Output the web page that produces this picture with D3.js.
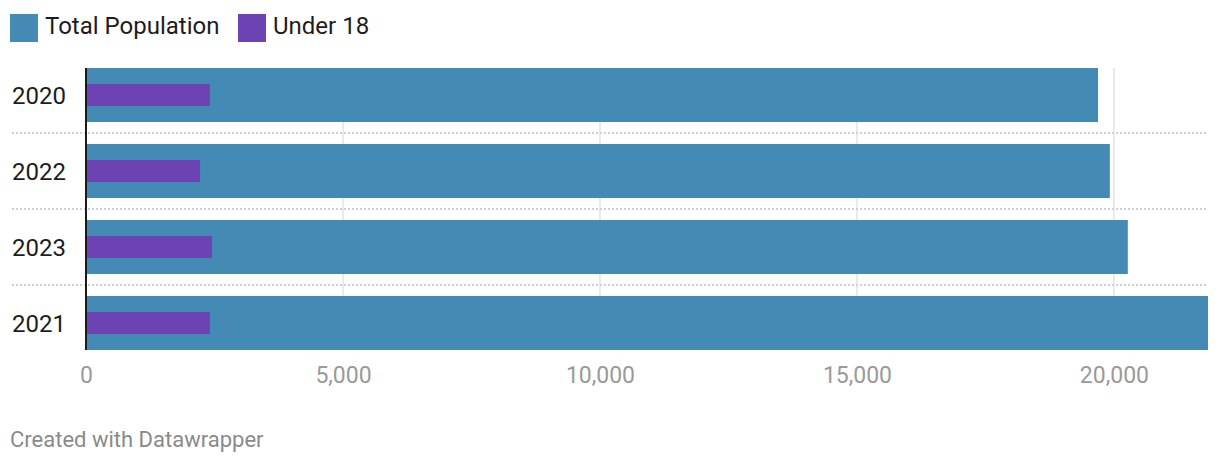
<!DOCTYPE html>
<html>
<head>
<meta charset="utf-8">
<script src="https://cdn.jsdelivr.net/npm/d3@7"></script>
<style>
  body { margin: 0; background: #fff; font-family: Roboto, "Noto Sans", sans-serif; }
</style>
</head>
<body>
<svg id="chart" width="1220" height="464"></svg>
<script>
var years = ["2020", "2022", "2023", "2021"];
var totalPopulation = [19690, 19920, 20270, 21830];
var under18 = [2410, 2220, 2450, 2410];
var xTicks = [0, 5000, 10000, 15000, 20000];
var seriesNames = ["Total Population", "Under 18"];
var seriesColors = ["#438bb5", "#6d43b3"];

var svg = d3.select("#chart");

// legend
var legend = svg.append("g");
var legendX = [10, 238];
seriesNames.forEach(function (name, i) {
    legend.append("rect")
        .attr("x", legendX[i]).attr("y", 14)
        .attr("width", 28).attr("height", 28)
        .attr("fill", seriesColors[i]);
    legend.append("text")
        .attr("x", legendX[i] + 35).attr("y", 34)
        .attr("font-size", 24)
        .attr("fill", "#1d1d1d")
        .text(name);
});

var xScale = d3.scaleLinear().domain([0, d3.max(totalPopulation)]).range([86, 1208]);
// band step 76, bar height 54
var yScale = d3.scaleBand().domain(years)
    .range([68, 68 + 76 * years.length - 22])
    .paddingInner(22 / 76).paddingOuter(0);

// vertical gridlines
svg.append("g").selectAll("line")
    .data(xTicks.slice(1))
    .enter().append("line")
    .attr("x1", function (d) { return xScale(d); })
    .attr("x2", function (d) { return xScale(d); })
    .attr("y1", 68).attr("y2", 350)
    .attr("stroke", "#e3e3e3").attr("stroke-width", 1.5);

// row separators
svg.append("g").selectAll("line")
    .data(years.slice(1))
    .enter().append("line")
    .attr("x1", 12).attr("x2", 1208)
    .attr("y1", function (d) { return yScale(d) - 11; })
    .attr("y2", function (d) { return yScale(d) - 11; })
    .attr("stroke", "#cfcfcf").attr("stroke-width", 2)
    .attr("stroke-dasharray", "2,2");

// total bars
svg.append("g").selectAll("rect")
    .data(years)
    .enter().append("rect")
    .attr("x", xScale(0) + 1)
    .attr("y", function (d) { return yScale(d); })
    .attr("width", function (d, i) { return xScale(totalPopulation[i]) - xScale(0) - 1; })
    .attr("height", yScale.bandwidth())
    .attr("fill", seriesColors[0]);

// under 18 bars
svg.append("g").selectAll("rect")
    .data(years)
    .enter().append("rect")
    .attr("x", xScale(0) + 1)
    .attr("y", function (d) { return yScale(d) + 16; })
    .attr("width", function (d, i) { return xScale(under18[i]) - xScale(0) - 1; })
    .attr("height", 22)
    .attr("fill", seriesColors[1]);

// zero line
svg.append("line")
    .attr("x1", xScale(0)).attr("x2", xScale(0))
    .attr("y1", 68).attr("y2", 350)
    .attr("stroke", "#1a1a1a").attr("stroke-width", 2);

// year labels
svg.append("g").selectAll("text")
    .data(years)
    .enter().append("text")
    .attr("x", 12)
    .attr("y", function (d) { return yScale(d) + yScale.bandwidth() / 2 + 9; })
    .attr("font-size", 24)
    .attr("fill", "#1d1d1d")
    .text(function (d) { return d; });

// x axis
var xAxis = d3.axisBottom(xScale).tickValues(xTicks).tickFormat(d3.format(",")).tickSize(0).tickPadding(0);
var xAxisGroup = svg.append("g")
    .attr("transform", "translate(0,367)")
    .call(xAxis);
xAxisGroup.select(".domain").remove();
xAxisGroup.selectAll("text")
    .attr("font-family", "Roboto, sans-serif")
    .attr("font-size", 23)
    .attr("fill", "#9a9a9a");

// footer
svg.append("text")
    .attr("x", 10).attr("y", 447)
    .attr("font-size", 22)
    .attr("fill", "#8a8a8a")
    .text("Created with Datawrapper");
</script>
</body>
</html>
